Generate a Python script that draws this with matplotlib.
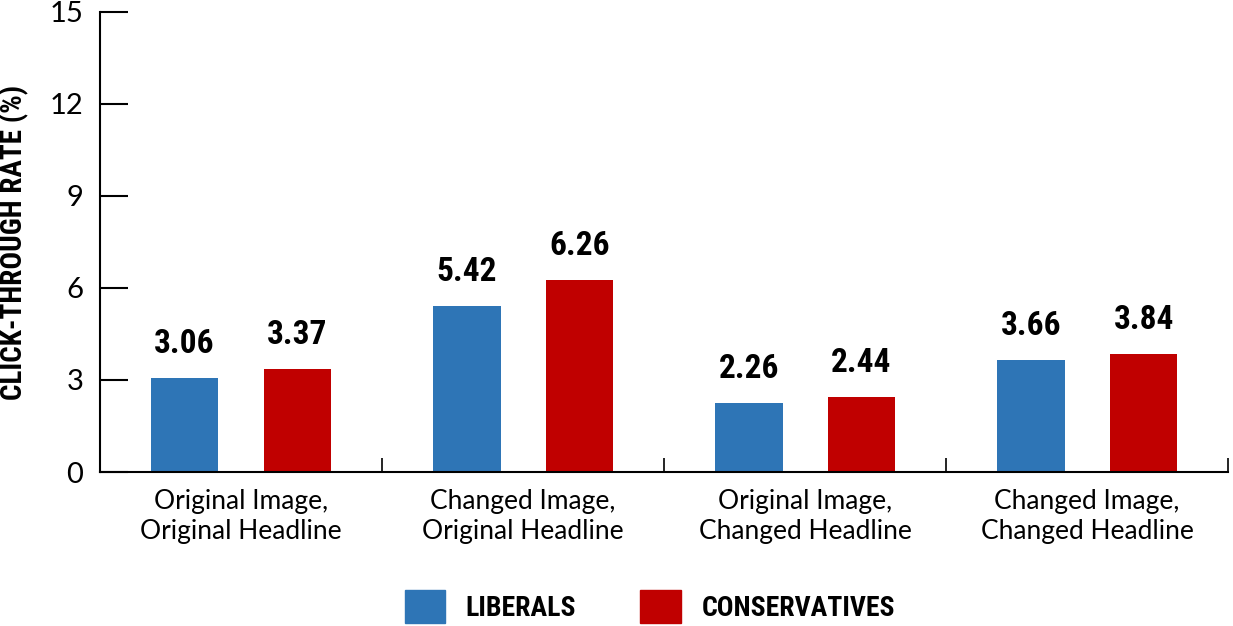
import matplotlib
matplotlib.use("Agg")
import matplotlib.pyplot as plt
import numpy as np
from matplotlib.patches import Patch

# data
categories = ["Original Image,\nOriginal Headline", "Changed Image,\nOriginal Headline",
              "Original Image,\nChanged Headline", "Changed Image,\nChanged Headline"]
liberals = [3.06, 5.42, 2.26, 3.66]
conservatives = [3.37, 6.26, 2.44, 3.84]
series_names = ["LIBERALS", "CONSERVATIVES"]
y_ticks = [0, 3, 6, 9, 12, 15]

BLUE = "#2E75B6"
RED = "#C00000"
BODY_FONT = ["Lato", "DejaVu Sans"]
BOLD_FONT = ["Roboto Condensed", "Roboto", "DejaVu Sans"]

fig = plt.figure(figsize=(12.33, 6.26), dpi=100)
ax = fig.add_axes([0.0811, 0.246, 0.915, 0.735])

x = np.arange(len(categories))
width = 0.24
offset = 0.2
bars_l = ax.bar(x - offset, liberals, width, color=BLUE)
bars_c = ax.bar(x + offset, conservatives, width, color=RED)

for bars, vals in [(bars_l, liberals), (bars_c, conservatives)]:
    for b, v in zip(bars, vals):
        ax.annotate(f"{v:.2f}", (b.get_x() + b.get_width() / 2, v),
                    xytext=(0, 13), textcoords="offset points",
                    ha="center", va="bottom", fontsize=24, fontweight="bold",
                    family=BOLD_FONT)

ax.set_xlim(-0.5, len(categories) - 0.5)
ax.set_ylim(0, 15)
ax.set_yticks(y_ticks)
ax.set_yticklabels([str(t) for t in y_ticks], family=BODY_FONT, fontsize=21)
ax.tick_params(axis="y", direction="in", length=20, width=1.5, pad=12)

# category labels between boundary ticks
ax.set_xticks(np.arange(len(categories) + 1) - 0.5)
ax.set_xticklabels([])
ax.set_xticks(x, minor=True)
ax.set_xticklabels(categories, minor=True, family=BODY_FONT, fontsize=19,
                   linespacing=1.25)
ax.tick_params(axis="x", which="major", direction="in", length=10, width=1.2)
ax.tick_params(axis="x", which="minor", length=0, pad=12)

for side in ["top", "right"]:
    ax.spines[side].set_visible(False)
for side in ["left", "bottom"]:
    ax.spines[side].set_linewidth(1.5)

ax.set_ylabel("CLICK-THROUGH RATE (%)", family=BOLD_FONT, fontweight="bold",
              fontsize=21)
ax.yaxis.set_label_coords(-0.063, 0.5)

handles = [Patch(color=BLUE), Patch(color=RED)]
fig.legend(handles, series_names, loc="lower center", bbox_to_anchor=(0.527, -0.035),
           ncol=2, frameon=False, handlelength=1.45, handleheight=1.45,
           handletextpad=0.75, columnspacing=2.3,
           prop={"family": BOLD_FONT, "weight": "bold", "size": 20})

fig.savefig("out.png", dpi=100)
